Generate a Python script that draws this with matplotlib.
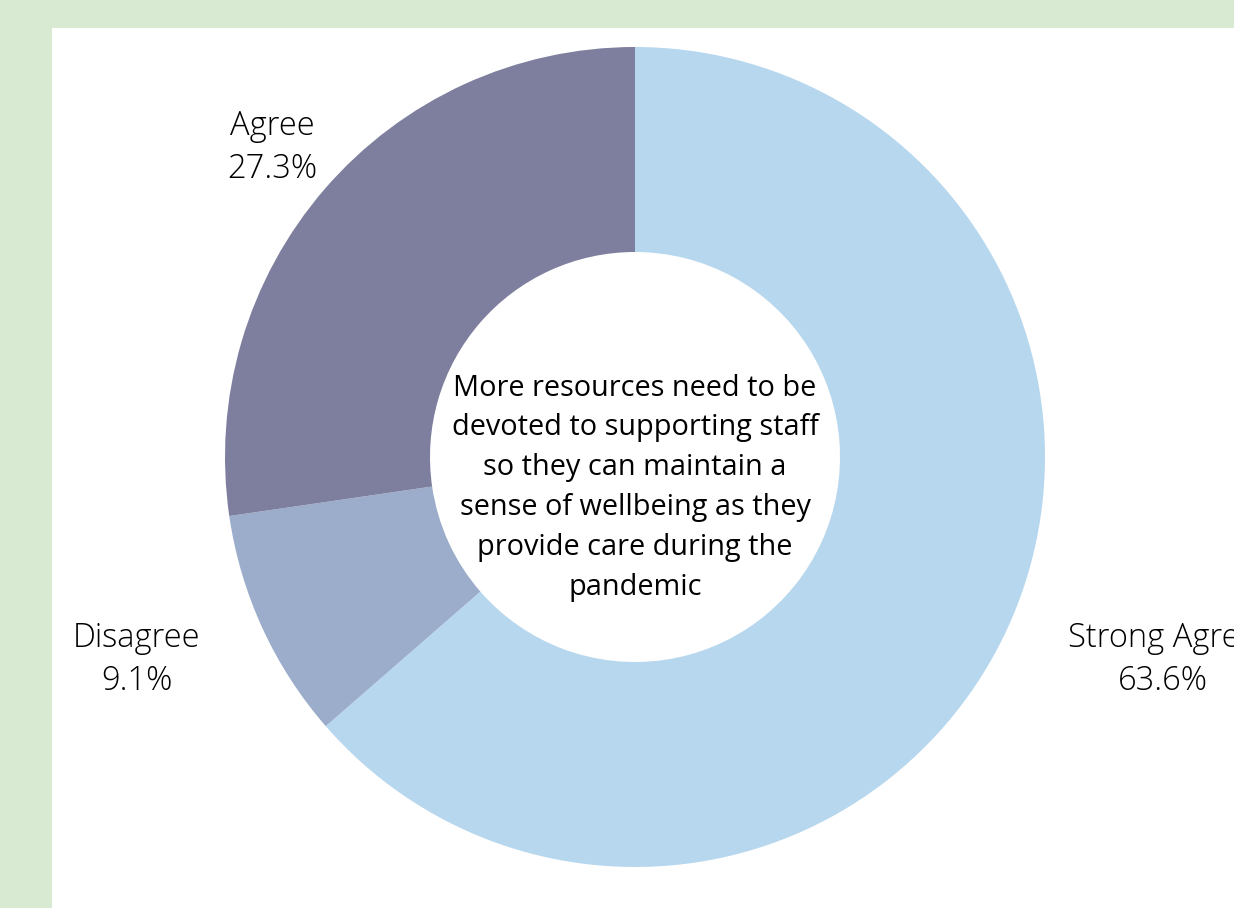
import matplotlib.pyplot as plt
from matplotlib.patches import Rectangle

# --- dane ---
categories = ["Strong Agree", "Disagree", "Agree"]
shares = [63.6, 9.1, 27.3]
colors = ["#b7d7ee", "#9badcb", "#7e7f9e"]
center_text = ("More resources need to be\ndevoted to supporting staff\nso they can maintain a\n"
               "sense of wellbeing as they\nprovide care during the\npandemic")

W, H = 1234, 908
fig = plt.figure(figsize=(W / 100, H / 100), dpi=100)
fig.patch.set_facecolor("#d9ead3")
ax = fig.add_axes([0, 0, 1, 1])

# white panel
ax.add_patch(Rectangle((52, 0), W - 52, H - 28, facecolor="white", edgecolor="none", zorder=0))

cx, cy, r = 635, H - 457, 410
ax.pie(shares, colors=colors, startangle=90, counterclock=False,
       center=(cx, cy), radius=r, wedgeprops=dict(width=r * 0.5, edgecolor="none"),
       frame=True)
ax.set_xlim(0, W)
ax.set_ylim(0, H)
ax.set_aspect("equal")
ax.set_axis_off()

# etykiety (Strong Agree jest ucięte przy prawej krawędzi, jak w oryginale)
label_pos = {"Strong Agree": (1163, H - 660), "Disagree": (137, H - 660), "Agree": (272, H - 148)}
for cat, val in zip(categories, shares):
    x, y = label_pos[cat]
    ax.text(x, y, f"{cat}\n{val:.1f}%", ha="center", va="center", fontsize=23.5,
            family="Open Sans", fontweight="light", linespacing=1.36, color="black", clip_on=False)

ax.text(cx, cy - 31, center_text, ha="center", va="center", fontsize=20.8,
        family="Open Sans", linespacing=1.5, color="black")

fig.savefig("out.png", dpi=100)
